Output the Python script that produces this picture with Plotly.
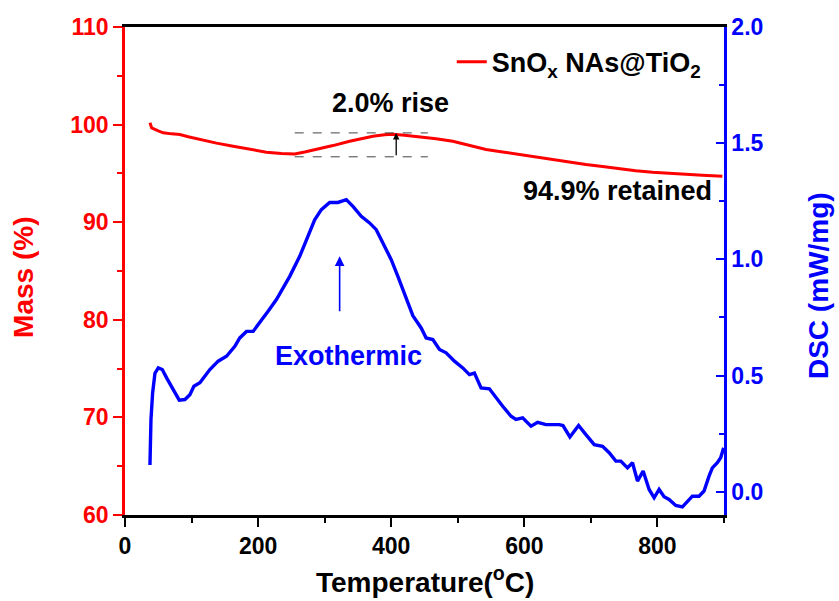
import plotly.graph_objects as go

# ---------------- data ----------------
temp_mass = [37.5, 40, 50, 57.5, 70, 82.5, 95, 112.5, 137.5, 162.5, 187.5, 212.5, 235, 255,
             270, 287.5, 312.5, 337.5, 355, 372.5, 390, 402.5, 420, 442.5, 467.5, 492.5,
             517.5, 542.5, 567.5, 592.5, 617.5, 642.5, 667.5, 692.5, 717.5, 742.5, 767.5,
             792.5, 817.5, 842.5, 867.5, 897.5]
mass = [100.18, 99.67, 99.35, 99.16, 99.05, 98.99, 98.75, 98.47, 98.1, 97.79, 97.45, 97.17,
        97.05, 97.0, 97.2, 97.45, 97.85, 98.3, 98.55, 98.81, 98.95, 99.0, 98.9, 98.75, 98.55,
        98.3, 97.9, 97.45, 97.2, 96.93, 96.7, 96.42, 96.15, 95.91, 95.7, 95.47, 95.28, 95.12,
        95.0, 94.89, 94.8, 94.71]

temp_dsc = [37.5, 39, 41.5, 45, 50, 56, 62.5, 70, 75, 81.5, 90, 97.5, 103.5, 112.5, 127.5,
            140, 152.5, 165, 172.5, 182.5, 192.5, 202.5, 215, 227.5, 247.5, 262.5, 275, 285,
            295, 307.5, 320, 332.5, 342.5, 355, 367.5, 377.5, 387.5, 400, 410, 422.5, 432.5,
            445, 452.5, 462.5, 472.5, 482.5, 495, 507.5, 517.5, 525, 535, 547.5, 557.5, 567.5,
            580, 587.5, 597.5, 610, 620, 632.5, 652.5, 658, 668.5, 681.5, 692.5, 705, 717.5,
            727.5, 737.5, 745, 755, 762.5, 770, 778.5, 787.5, 795, 802.5, 810, 817.5, 827.5,
            837.5, 845, 852.5, 862.5, 870, 877.5, 882.5, 890, 895, 899.5]
dsc = [0.115, 0.31, 0.425, 0.51, 0.533, 0.526, 0.49, 0.454, 0.427, 0.394, 0.397, 0.418, 0.454,
       0.469, 0.526, 0.562, 0.583, 0.626, 0.662, 0.69, 0.69, 0.727, 0.777, 0.827, 0.927, 1.013,
       1.099, 1.17, 1.214, 1.245, 1.245, 1.257, 1.228, 1.185, 1.157, 1.128, 1.07, 0.999, 0.927,
       0.83, 0.758, 0.705, 0.662, 0.655, 0.612, 0.598, 0.562, 0.533, 0.504, 0.511, 0.447, 0.443,
       0.404, 0.368, 0.325, 0.311, 0.318, 0.282, 0.299, 0.289, 0.289, 0.285, 0.236, 0.285, 0.246,
       0.203, 0.196, 0.168, 0.132, 0.132, 0.103, 0.125, 0.046, 0.089, 0.01, -0.026, 0.01, -0.021,
       -0.033, -0.059, -0.065, -0.04, -0.019, -0.019, 0.003, 0.067, 0.103, 0.125, 0.146, 0.189]

x_ticks = [0, 200, 400, 600, 800]
mass_ticks = [60, 70, 80, 90, 100, 110]
dsc_ticks = [0.0, 0.5, 1.0, 1.5, 2.0]

series_name = "SnO<sub>x</sub> NAs@TiO<sub>2</sub>"
rise_low, rise_high = 96.7, 99.15       # dashed guide levels (mass %)
rise_span = [255, 455]                  # temperature span of guides
rise_arrow_T = 407.5
exo_arrow_T = 322.5
exo_arrow_from, exo_arrow_to = 0.77, 1.013

FONT = "Liberation Sans, Arial, sans-serif"
RED = "#ff0000"
BLUE = "#0000ff"

fig = go.Figure()
fig.add_trace(go.Scatter(x=temp_mass, y=mass, mode="lines", name=series_name,
                         line=dict(color=RED, width=3), yaxis="y"))
fig.add_trace(go.Scatter(x=temp_dsc, y=dsc, mode="lines", name="DSC", showlegend=False,
                         line=dict(color=BLUE, width=3.4), yaxis="y2"))

# dashed guides
for lvl in (rise_low, rise_high):
    fig.add_shape(type="line", xref="x", yref="y", x0=rise_span[0], x1=rise_span[1],
                  y0=lvl, y1=lvl, line=dict(color="#444444", width=1, dash="dash"))

annotations = [
    dict(x=rise_arrow_T, y=rise_high, ax=rise_arrow_T, ay=rise_low, xref="x", yref="y",
         axref="x", ayref="y", text="", showarrow=True, arrowhead=2, arrowsize=1,
         arrowwidth=1.3, arrowcolor="black"),
    dict(x=exo_arrow_T, y=exo_arrow_to, ax=exo_arrow_T, ay=exo_arrow_from, xref="x", yref="y2",
         axref="x", ayref="y2", text="", showarrow=True, arrowhead=2, arrowsize=1.2,
         arrowwidth=1.6, arrowcolor=BLUE),
    dict(x=399, y=102.2, xref="x", yref="y", text="2.0% rise", showarrow=False,
         xanchor="center", yanchor="middle",
         font=dict(family=FONT, size=27, color="black", weight="bold")),
    dict(x=885, y=93.2, xref="x", yref="y", text="94.9% retained", showarrow=False,
         xanchor="right", yanchor="middle",
         font=dict(family=FONT, size=27, color="black", weight="bold")),
    dict(x=336, y=0.586, xref="x", yref="y2", text="Exothermic", showarrow=False,
         xanchor="center", yanchor="middle",
         font=dict(family=FONT, size=27, color=BLUE, weight="bold")),
    dict(x=0.5, y=-0.134, xref="paper", yref="paper", text="Temperature(<sup>o</sup>C)",
         showarrow=False, xanchor="center", yanchor="middle",
         font=dict(family=FONT, size=28, color="black", weight="bold")),
    dict(x=-0.1685, y=0.486, xref="paper", yref="paper", text="Mass (%)", textangle=-90,
         showarrow=False, xanchor="center", yanchor="middle",
         font=dict(family=FONT, size=28, color=RED, weight="bold")),
    dict(x=1.1576, y=0.47, xref="paper", yref="paper", text="DSC (mW/mg)", textangle=-90,
         showarrow=False, xanchor="center", yanchor="middle",
         font=dict(family=FONT, size=28, color=BLUE, weight="bold")),
]

fig.update_layout(
    width=839, height=601,
    margin=dict(l=125, r=114.5, t=27, b=85.5),
    paper_bgcolor="white", plot_bgcolor="white",
    font=dict(family=FONT),
    showlegend=True,
    legend=dict(x=0.5455, y=0.928, xanchor="left", yanchor="middle",
                bgcolor="rgba(0,0,0,0)", borderwidth=0,
                font=dict(family=FONT, size=27, color="black", weight="bold")),
    annotations=annotations,
    xaxis=dict(range=[0, 900], tickvals=x_ticks, ticks="outside", ticklen=9, tickwidth=2,
               tickcolor="black", linecolor="black", linewidth=2.5, showline=True, mirror=True,
               showgrid=False, zeroline=False,
               tickfont=dict(family=FONT, size=23, color="black", weight="bold"),
               minor=dict(dtick=100, tick0=0, ticks="outside", ticklen=5, tickwidth=2,
                          tickcolor="black")),
    yaxis=dict(range=[60, 110], tickvals=mass_ticks, ticks="outside", ticklen=9, tickwidth=2,
               tickcolor=RED, linecolor=RED, linewidth=2.5, showline=True,
               showgrid=False, zeroline=False,
               tickfont=dict(family=FONT, size=23, color=RED, weight="bold"),
               minor=dict(dtick=5, tick0=60, ticks="outside", ticklen=5, tickwidth=2,
                          tickcolor=RED)),
    yaxis2=dict(range=[-0.1, 2.0], overlaying="y", side="right", tickvals=dsc_ticks,
                tickformat=".1f", ticks="inside", ticklen=8, tickwidth=2, tickcolor=BLUE,
                linecolor=BLUE, linewidth=2.5, showline=True, showgrid=False, zeroline=False,
                tickfont=dict(family=FONT, size=23, color=BLUE, weight="bold"),
                minor=dict(dtick=0.25, tick0=0, ticks="inside", ticklen=5, tickwidth=2,
                           tickcolor=BLUE)),
)

fig.write_html("out.html", config={"displayModeBar": False},
               post_script="document.body.style.margin='0px';")
